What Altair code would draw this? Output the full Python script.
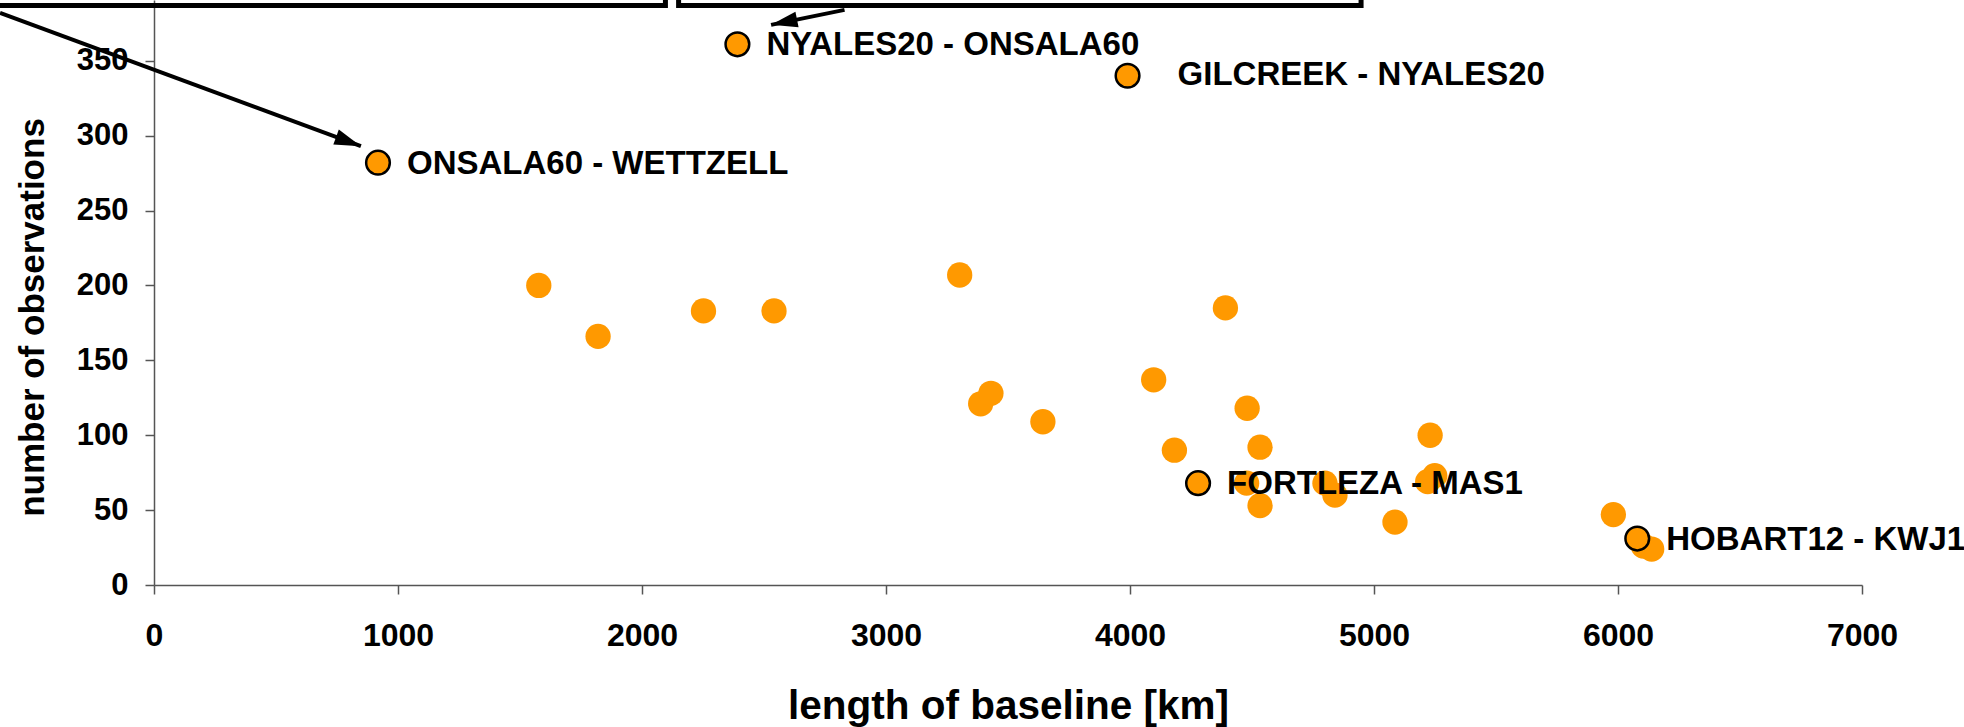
import altair as alt
import pandas as pd

# ---------------- data ----------------
# ordinary baselines: length [km] and number of observations
base_len = [1577, 1820, 2252, 2541, 3302, 3388, 3430, 3643, 4097, 4182, 4391,
            4480, 4533, 4478, 4533, 4799, 4840, 5086, 5230, 5249, 5220, 5981,
            6104, 6138]
base_obs = [200, 166, 183, 183, 207, 121, 128, 109, 137, 90, 185,
            118, 92, 68, 53, 68, 60, 42, 100, 73, 69, 47,
            26, 24]

# highlighted (labelled) baselines
hl_names = ["ONSALA60 - WETTZELL", "NYALES20 - ONSALA60", "FORTLEZA - MAS1",
            "HOBART12 - KWJ1"]
hl_len = [918, 2391, 4279, 6079]
hl_obs = [282, 361, 68, 31]
far_name = ["GILCREEK - NYALES20"]
far_len = [3990]
far_obs = [340]

# axis ticks
x_ticks = [0, 1000, 2000, 3000, 4000, 5000, 6000, 7000]
y_ticks = [0, 50, 100, 150, 200, 250, 300, 350]

# call-out boxes (cut off at the top of the figure), in data units
box_x1 = [-900, 2150]
box_x2 = [2096, 4947]
box_y1 = [387, 387]
box_y2 = [440, 440]

# arrows from the boxes: start and tip, in data units
arr_x1 = [-631, 2830]
arr_y1 = [382, 384]
arr_x2 = [848, 2529]
arr_y2 = [293, 374]

FONT = "Liberation Sans"
ORANGE = "#FF9900"

xs = alt.Scale(domain=[0, 7000], nice=False, zero=False)
ys = alt.Scale(domain=[0, 390.6], nice=False, zero=False)

base_df = pd.DataFrame({"len": base_len, "obs": base_obs})
hl_df = pd.DataFrame({"name": hl_names, "len": hl_len, "obs": hl_obs})
far_df = pd.DataFrame({"name": far_name, "len": far_len, "obs": far_obs})
box_df = pd.DataFrame({"x1": box_x1, "x2": box_x2, "y1": box_y1, "y2": box_y2})
arr_df = pd.DataFrame({"x1": arr_x1, "y1": arr_y1, "x2": arr_x2, "y2": arr_y2})

x_axis = alt.Axis(
    values=x_ticks, format="d", title="length of baseline [km]", grid=False,
    labelFont=FONT, labelFontSize=32, labelFontWeight="bold", labelColor="black",
    labelPadding=26, labelFlush=False, labelOverlap=False,
    tickSize=9, tickColor="#555555", domainColor="#555555", domainWidth=1.5,
    tickWidth=1.5,
    titleFont=FONT, titleFontSize=40.5, titleFontWeight="bold", titleColor="black",
    titleX=854, titleY=133, titleBaseline="alphabetic", titleAlign="center",
)
y_axis = alt.Axis(
    values=y_ticks, format="d", title="number of observations", grid=False,
    labelFont=FONT, labelFontSize=31, labelFontWeight="bold", labelColor="black",
    labelPadding=17, labelOverlap=False, labelFlush=False,
    tickSize=9, tickColor="#555555", domainColor="#555555", domainWidth=1.5,
    tickWidth=1.5,
    titleFont=FONT, titleFontSize=35, titleFontWeight="bold", titleColor="black",
    titleAngle=270, titleX=-111, titleY=317, titleBaseline="alphabetic",
    titleAlign="center",
)


def X(field):
    return alt.X(field, type="quantitative", scale=xs, axis=x_axis)


def Y(field):
    return alt.Y(field, type="quantitative", scale=ys, axis=y_axis)


points = alt.Chart(base_df).mark_circle(
    size=640, color=ORANGE, opacity=1
).encode(x=X("len"), y=Y("obs"))

hl_points = alt.Chart(pd.concat([hl_df, far_df])).mark_point(
    shape="circle", size=560, filled=True, fill=ORANGE, stroke="black",
    strokeWidth=2.5, opacity=1
).encode(x=X("len"), y=Y("obs"))

labels = alt.Chart(hl_df).mark_text(
    align="left", baseline="middle", dx=29, dy=1, font=FONT, fontSize=33,
    fontWeight="bold", color="black"
).encode(x=X("len"), y=Y("obs"), text="name:N")

far_label = alt.Chart(far_df).mark_text(
    align="left", baseline="middle", dx=50, dy=-1, font=FONT, fontSize=33,
    fontWeight="bold", color="black"
).encode(x=X("len"), y=Y("obs"), text="name:N")

boxes = alt.Chart(box_df).mark_rect(
    filled=False, fillOpacity=0, stroke="black", strokeWidth=5, clip=False
).encode(x=X("x1"), x2="x2:Q", y=Y("y1"), y2="y2:Q")

arrows = alt.Chart(arr_df).mark_rule(
    color="black", strokeWidth=4, clip=False
).encode(x=X("x1"), y=Y("y1"), x2="x2:Q", y2="y2:Q")

HEAD = "M0,0 L-0.6,2 L0.6,2 Z"
head1 = alt.Chart(arr_df.iloc[[0]]).mark_point(
    shape=HEAD, size=700, filled=True, color="black", opacity=1,
    angle=110.2, strokeWidth=0, clip=False
).encode(x=X("x2"), y=Y("y2"))
head2 = alt.Chart(arr_df.iloc[[1]]).mark_point(
    shape=HEAD, size=700, filled=True, color="black", opacity=1,
    angle=258.5, strokeWidth=0, clip=False
).encode(x=X("x2"), y=Y("y2"))

chart = alt.layer(
    points, hl_points, labels, far_label, arrows, head1, head2, boxes
).properties(
    width=1708, height=585,
    autosize=alt.AutoSizeParams(type="none"),
    padding={"left": 154, "top": 0, "right": 102, "bottom": 142},
    background="white",
).configure_view(stroke=None)

chart.save("out.html", embed_options={"renderer": "svg", "actions": False})
